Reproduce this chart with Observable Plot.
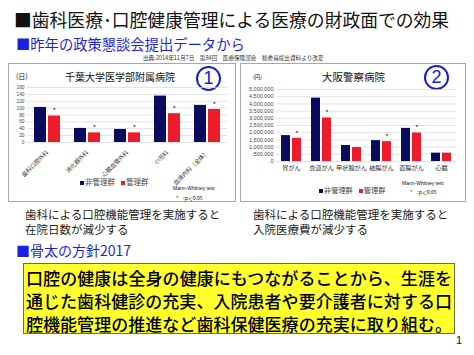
<!DOCTYPE html>
<html lang="ja">
<head>
<meta charset="utf-8">
<script src="https://cdn.jsdelivr.net/npm/d3@7"></script>
<script src="https://cdn.jsdelivr.net/npm/@observablehq/plot@0.6"></script>
<style>
  html, body { margin: 0; padding: 0; background: #fff; }
  body {
    width: 474px; height: 355px; position: relative; overflow: hidden;
    font-family: "Noto Sans CJK JP", "Noto Sans", sans-serif; color: #111;
  }
  .abs { position: absolute; white-space: nowrap; line-height: 1; }
  .box { position: absolute; border: 1px solid #a8a8a8; background: #fff; box-sizing: border-box; }
  .circ {
    position: absolute; width: 25px; height: 25px; box-sizing: border-box;
    border: 2px solid #1a1ad0; border-radius: 50%; color: #1a1ad0;
    font-family: "Liberation Sans", Arial, sans-serif; font-size: 18px;
    text-align: center; line-height: 21px;
  }
  .sq { display: inline-block; width: 4px; height: 4px; margin-right: 1px; vertical-align: middle; }
  .sq2 { margin-left: 6px; }
  .blue { color: #1f1fe0; }
  .yellow {
    position: absolute; left: 23px; top: 263px; width: 432px; height: 71px;
    box-sizing: border-box; background: #ffff2e; border: 1px solid #6b6b50;
  }
  .yl { position: absolute; left: 2px; width: 426px; font-size: 17px; line-height: 1;
        text-align: justify; text-align-last: justify; color: #000; font-weight: 500; }
</style>
</head>
<body>
<script>
// 区分と群
const groups = ["非管理群", "管理群"];
const groupColors = ["#0b0b5e", "#ee1c2a"];

// ① 千葉大学医学部附属病院：在院日数（日）
const chibaDepts = ["歯科口腔外科", "消化器外科", "心臓血管外科", "小児科", "血液内科（全体）"];
const chibaUnmanaged = [102, 41, 38, 135, 108];
const chibaManaged = [77, 28, 28, 84, 96];
const chibaSignificant = [true, true, true, true, true];
const chibaTicks = [0, 20, 40, 60, 80, 100, 120, 140, 160];

// ② 大阪警察病院：入院医療費（円）
const osakaDepts = ["胃がん", "食道がん", "甲状腺がん", "結腸がん", "直腸がん", "心臓"];
const osakaUnmanaged = [1800000, 4400000, 1110000, 1450000, 2300000, 580000];
const osakaManaged = [1610000, 3020000, 970000, 1380000, 1980000, 580000];
const osakaSignificant = [true, true, false, true, true, false];
const osakaTicks = [0, 500000, 1000000, 1500000, 2000000, 2500000, 3000000, 3500000, 4000000, 4500000, 5000000];

const font = '"Noto Sans CJK JP", "Noto Sans", sans-serif';

function toRows(depts, unmanaged, managed) {
  const rows = [];
  depts.forEach((d, i) => {
    rows.push({dept: d, group: groups[0], value: unmanaged[i]});
    rows.push({dept: d, group: groups[1], value: managed[i]});
  });
  return rows;
}
function starRows(depts, managed, sig) {
  return depts.map((d, i) => ({dept: d, group: groups[1], value: managed[i], sig: sig[i]}))
              .filter(r => r.sig);
}

function groupedBars({depts, unmanaged, managed, sig, ticks, yMax, width, height, margins,
                      inner, outer, tickFont, fxOpts, tickFormat}) {
  const rows = toRows(depts, unmanaged, managed);
  return Plot.plot({
    width, height,
    ...margins,
    style: {fontFamily: font, background: "transparent", overflow: "visible"},
    fx: {domain: depts, padding: 0, label: null},
    x: {domain: groups, paddingInner: inner, paddingOuter: outer, axis: null},
    y: {domain: [0, yMax], label: null},
    color: {domain: groups, range: groupColors},
    marks: [
      Plot.gridY(ticks, {stroke: "#d6d6d6", strokeOpacity: 1, strokeWidth: 0.7}),
      Plot.barY(rows, {fx: "dept", x: "group", y: "value", fill: "group"}),
      Plot.text(starRows(depts, managed, sig), {
        fx: "dept", x: "group", y: "value", text: () => "*",
        dy: -5, fontSize: 7, fill: "#111"
      }),
      Plot.axisY(ticks, {tickSize: 0, tickPadding: 3, fontSize: tickFont, fill: "#444",
                         fontFamily: '"Liberation Sans", Arial, sans-serif',
                         label: null, tickFormat}),
      Plot.axisFx({anchor: "bottom", tickSize: 0, label: null, fill: "#333", ...fxOpts})
    ]
  });
}

const chibaChart = groupedBars({
  depts: chibaDepts, unmanaged: chibaUnmanaged, managed: chibaManaged, sig: chibaSignificant,
  ticks: chibaTicks, yMax: 160, width: 228, height: 139,
  margins: {marginLeft: 18, marginRight: 8, marginTop: 24, marginBottom: 60},
  inner: 0.133, outer: 0.413, tickFont: 4.8,
  fxOpts: {tickRotate: -45, tickPadding: 9, fontSize: 5.8},
  tickFormat: d => String(d)
});

const osakaChart = groupedBars({
  depts: osakaDepts, unmanaged: osakaUnmanaged, managed: osakaManaged, sig: osakaSignificant,
  ticks: osakaTicks, yMax: 5000000, width: 226, height: 139,
  margins: {marginLeft: 35, marginRight: 9, marginTop: 26, marginBottom: 41},
  inner: 0.15, outer: 0.42, tickFont: 5.5,
  fxOpts: {tickPadding: 4, fontSize: 6.2},
  tickFormat: d3.format(",")
});

const html = `
  <div class="abs" style="left:14px;top:11px;font-size:17.8px;">■歯科医療･口腔健康管理による医療の財政面での効果</div>
  <div class="abs blue" style="left:16px;top:37px;font-size:14.3px;">■昨年の政策懇談会提出データから</div>
  <div class="abs" style="left:143px;top:56px;font-size:5.6px;color:#333;">出典:2014年11月7日　第84回　医療保険部会　総委員提出資料より改変</div>

  <div class="box" style="left:8px;top:63px;width:228px;height:139px;"></div>
  <div class="box" style="left:240px;top:63px;width:226px;height:139px;"></div>

  <div class="abs" style="left:16px;top:73px;font-size:7px;">(日)</div>
  <div class="abs" style="left:65px;top:72px;font-size:10px;">千葉大学医学部附属病院</div>
  <div class="circ" style="left:196px;top:66px;">1</div>
  <div class="abs" style="left:80px;top:178px;font-size:7.5px;color:#444;">
    <span class="sq" style="background:${groupColors[0]}"></span>${groups[0]}<span class="sq sq2" style="background:${groupColors[1]}"></span>${groups[1]}</div>
  <div class="abs" style="left:173px;top:185.5px;font-size:5px;font-family:'Liberation Sans',Arial,sans-serif;">Mann-Whitney test</div>
  <div class="abs" style="left:176px;top:195px;font-size:5px;">*　:p＜0.05</div>

  <div class="abs" style="left:253px;top:75px;font-size:5.5px;">(円)</div>
  <div class="abs" style="left:322px;top:72px;font-size:10.5px;">大阪警察病院</div>
  <div class="circ" style="left:424px;top:65px;">2</div>
  <div class="abs" style="left:319px;top:186.5px;font-size:7.2px;color:#444;">
    <span class="sq" style="background:${groupColors[0]}"></span>${groups[0]}<span class="sq sq2" style="background:${groupColors[1]}"></span>${groups[1]}</div>
  <div class="abs" style="left:402px;top:180.5px;font-size:5px;font-family:'Liberation Sans',Arial,sans-serif;">Mann-Whitney test</div>
  <div class="abs" style="left:410px;top:188.5px;font-size:5px;">*　:p＜0.05</div>

  <div class="abs" style="left:25px;top:207px;font-size:11.5px;line-height:15px;color:#222;">歯科による口腔機能管理を実施すると<br>在院日数が減少する</div>
  <div class="abs" style="left:253px;top:207px;font-size:11.5px;line-height:15px;color:#222;">歯科による口腔機能管理を実施すると<br>入院医療費が減少する</div>

  <div class="abs blue" style="left:16px;top:243px;font-size:14px;">■骨太の方針2017</div>
  <div class="yellow">
    <div class="yl" style="top:5px;">口腔の健康は全身の健康にもつながることから、生涯を</div>
    <div class="yl" style="top:28px;">通じた歯科健診の充実、入院患者や要介護者に対する口</div>
    <div class="yl" style="top:51px;">腔機能管理の推進など歯科保健医療の充実に取り組む。</div>
  </div>
  <div class="abs" style="left:456px;top:335px;font-size:11px;font-family:'Liberation Sans',Arial,sans-serif;">1</div>
`;
document.body.insertAdjacentHTML("beforeend", html);

function place(svg, left, top) {
  svg.style.position = "absolute";
  svg.style.left = left + "px";
  svg.style.top = top + "px";
  document.body.appendChild(svg);
}
place(chibaChart, 8, 63);
place(osakaChart, 240, 63);
</script>
</body>
</html>
